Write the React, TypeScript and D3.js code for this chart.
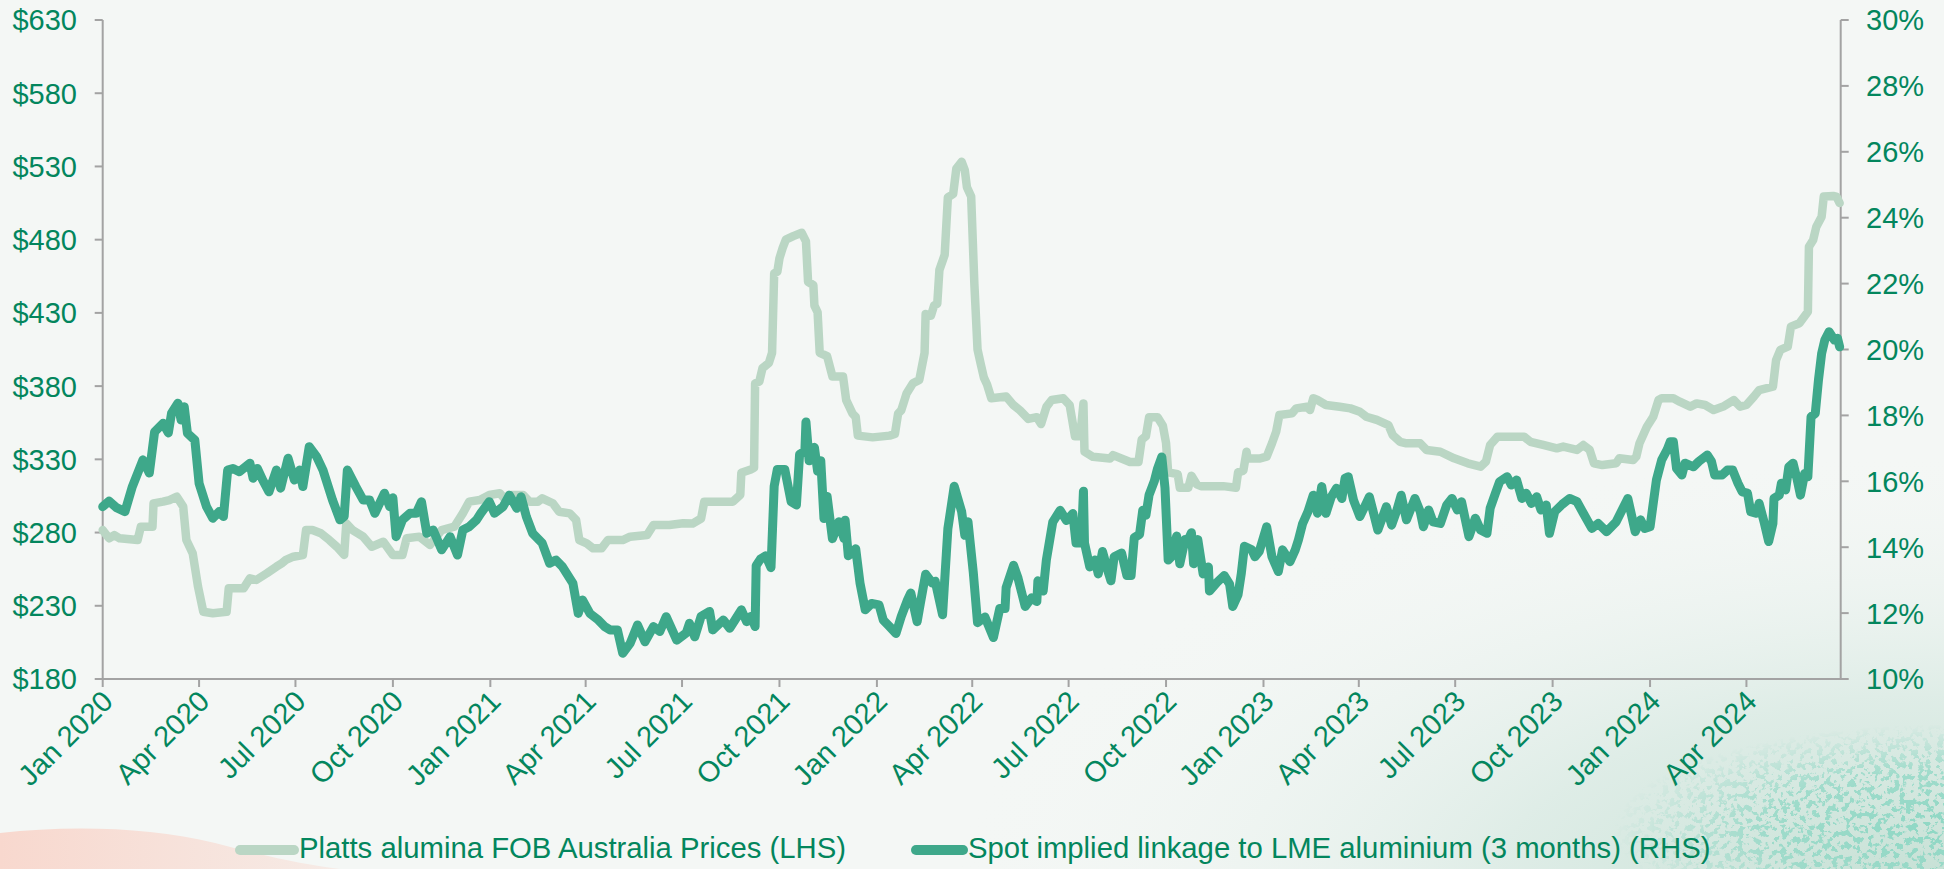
import React from "react";
import * as d3 from "d3";

const W = 1944;
const H = 869;

const xTickLabels = [
  "Jan 2020", "Apr 2020", "Jul 2020", "Oct 2020",
  "Jan 2021", "Apr 2021", "Jul 2021", "Oct 2021",
  "Jan 2022", "Apr 2022", "Jul 2022", "Oct 2022",
  "Jan 2023", "Apr 2023", "Jul 2023", "Oct 2023",
  "Jan 2024", "Apr 2024",
];
const leftTicks = [180, 230, 280, 330, 380, 430, 480, 530, 580, 630];
const rightTicks = [10, 12, 14, 16, 18, 20, 22, 24, 26, 28, 30];
const legendLabels = [
  "Platts alumina FOB Australia Prices (LHS)",
  "Spot implied linkage to LME aluminium (3 months) (RHS)",
];
const dateDomain = ["2020-01-01", "2024-06-29"];

// Platts alumina FOB Australia, US$/t (LHS)
const aluminaPrices: [string, number][] = [
  ["2020-01-01",281.7],["2020-01-07",276.1],["2020-01-12",278.3],["2020-01-17",276.1],["2020-02-03",274.9],["2020-02-06",284.0],["2020-02-17",284.0],["2020-02-18",299.9],["2020-02-27",301.1],["2020-03-04",302.2],["2020-03-11",304.5],["2020-03-17",297.7],["2020-03-20",274.9],["2020-03-26",265.8],["2020-03-31",243.0],["2020-04-05",225.9],["2020-04-14",224.9],["2020-04-27",225.9],["2020-04-29",241.9],["2020-05-13",241.9],["2020-05-19",248.7],["2020-05-25",247.6],["2020-06-04",252.2],["2020-06-13",256.7],["2020-06-18",259.0],["2020-06-22",261.3],["2020-06-29",263.5],["2020-07-08",264.7],["2020-07-11",281.7],["2020-07-17",281.7],["2020-07-25",279.5],["2020-08-02",274.9],["2020-08-09",270.3],["2020-08-16",264.7],["2020-08-18",286.3],["2020-08-24",281.7],["2020-09-03",277.2],["2020-09-11",270.3],["2020-09-22",273.7],["2020-10-01",264.7],["2020-10-10",264.7],["2020-10-14",276.1],["2020-10-26",277.2],["2020-11-05",271.5],["2020-11-16",281.7],["2020-11-28",284.0],["2020-12-06",293.1],["2020-12-12",301.1],["2020-12-22",302.2],["2020-12-31",305.6],
  ["2021-01-10",306.8],["2021-01-14",303.4],["2021-01-19",305.6],["2021-02-01",305.6],["2021-02-07",301.1],["2021-02-15",301.1],["2021-02-19",303.4],["2021-03-01",300.0],["2021-03-07",294.2],["2021-03-17",293.1],["2021-03-23",288.6],["2021-03-26",274.9],["2021-04-02",272.6],["2021-04-08",269.2],["2021-04-16",269.2],["2021-04-22",274.9],["2021-05-06",274.9],["2021-05-13",277.2],["2021-05-29",278.3],["2021-06-04",285.2],["2021-06-19",285.2],["2021-07-02",286.3],["2021-07-11",286.1],["2021-07-19",289.6],["2021-07-22",301.1],["2021-08-18",301.1],["2021-08-25",305.8],["2021-08-26",320.8],["2021-09-04",323.1],["2021-09-07",324.2],["2021-09-08",381.9],["2021-09-12",383.1],["2021-09-15",392.3],["2021-09-21",395.8],["2021-09-24",402.7],["2021-09-26",457.0],["2021-09-29",458.1],["2021-10-01",467.3],["2021-10-04",474.3],["2021-10-07",480.0],["2021-10-14",482.4],["2021-10-22",484.7],["2021-10-26",478.9],["2021-10-28",451.2],["2021-11-02",448.9],["2021-11-03",435.0],["2021-11-06",430.4],["2021-11-08",402.7],["2021-11-15",400.4],["2021-11-20",386.6],["2021-11-30",386.6],["2021-12-03",370.4],["2021-12-09",361.2],["2021-12-12",358.9],["2021-12-14",346.2],["2021-12-28",345.0],
  ["2022-01-13",346.2],["2022-01-18",347.3],["2022-01-21",361.2],["2022-01-24",363.5],["2022-01-29",375.0],["2022-02-04",381.9],["2022-02-10",384.2],["2022-02-15",402.7],["2022-02-16",429.3],["2022-02-21",428.1],["2022-02-24",435.0],["2022-02-27",436.2],["2022-03-01",459.3],["2022-03-06",469.7],["2022-03-09",508.9],["2022-03-14",511.2],["2022-03-17",528.5],["2022-03-22",533.2],["2022-03-25",527.4],["2022-03-27",515.8],["2022-03-31",509.4],["2022-04-03",450.0],["2022-04-06",405.0],["2022-04-09",395.2],["2022-04-12",385.8],["2022-04-15",381.1],["2022-04-19",371.7],["2022-05-03",372.9],["2022-05-10",367.0],["2022-05-16",363.5],["2022-05-24",357.6],["2022-06-01",358.8],["2022-06-05",354.1],["2022-06-10",365.8],["2022-06-15",370.5],["2022-06-26",371.7],["2022-07-02",367.0],["2022-07-07",345.8],["2022-07-12",345.8],["2022-07-15",368.2],["2022-07-16",335.2],["2022-07-24",331.7],["2022-08-09",330.5],["2022-08-12",332.9],["2022-08-28",328.2],["2022-09-05",328.2],["2022-09-08",343.5],["2022-09-12",345.8],["2022-09-15",358.8],["2022-09-23",358.8],["2022-09-28",352.9],["2022-10-01",341.1],["2022-10-03",321.1],["2022-10-12",319.9],["2022-10-14",310.6],["2022-10-22",310.6],["2022-10-25",318.8],["2022-10-30",312.9],["2022-11-03",311.7],["2022-11-24",311.7],["2022-12-06",310.6],["2022-12-08",321.1],["2022-12-13",322.3],["2022-12-16",335.2],["2022-12-17",330.5],["2022-12-28",330.5],
  ["2023-01-04",331.8],["2023-01-09",340.9],["2023-01-13",348.9],["2023-01-16",360.3],["2023-01-28",361.4],["2023-02-01",364.8],["2023-02-11",365.9],["2023-02-14",363.7],["2023-02-17",371.7],["2023-02-21",370.5],["2023-03-01",367.1],["2023-03-14",365.9],["2023-03-24",364.8],["2023-04-02",362.5],["2023-04-08",359.1],["2023-04-18",356.9],["2023-04-29",353.4],["2023-05-03",346.6],["2023-05-10",342.0],["2023-05-16",340.9],["2023-05-29",340.9],["2023-06-04",336.4],["2023-06-17",335.2],["2023-06-30",330.7],["2023-07-13",327.3],["2023-07-25",325.0],["2023-07-30",328.4],["2023-08-03",339.8],["2023-08-10",345.5],["2023-09-04",345.5],["2023-09-10",342.0],["2023-09-22",339.8],["2023-10-05",337.5],["2023-10-11",338.7],["2023-10-24",336.4],["2023-10-30",339.8],["2023-11-05",336.4],["2023-11-09",327.3],["2023-11-17",326.1],["2023-11-30",327.3],["2023-12-03",330.7],["2023-12-16",329.5],["2023-12-19",331.8],["2023-12-22",340.9],["2023-12-29",352.3],
  ["2024-01-04",359.1],["2024-01-09",370.5],["2024-01-12",371.7],["2024-01-23",371.7],["2024-01-29",369.4],["2024-02-08",366.0],["2024-02-14",368.2],["2024-02-22",367.1],["2024-03-01",363.7],["2024-03-10",366.0],["2024-03-20",370.5],["2024-03-26",366.0],["2024-04-01",367.1],["2024-04-08",372.8],["2024-04-13",377.3],["2024-04-26",379.6],["2024-04-29",397.8],["2024-05-03",404.7],["2024-05-10",406.9],["2024-05-13",420.6],["2024-05-21",422.9],["2024-05-29",430.8],["2024-05-30",475.2],["2024-06-03",479.8],["2024-06-06",488.9],["2024-06-11",495.7],["2024-06-13",509.4],["2024-06-22",509.8],["2024-06-25",509.4],["2024-06-28",505.0],
];

// Spot implied linkage to LME aluminium 3M, % (RHS)
const linkagePct: [string, number][] = [
  ["2020-01-01",15.23],["2020-01-07",15.40],["2020-01-14",15.20],["2020-01-22",15.08],["2020-01-29",15.84],["2020-02-08",16.65],["2020-02-14",16.25],["2020-02-19",17.50],["2020-02-27",17.76],["2020-03-03",17.47],["2020-03-06",18.07],["2020-03-12",18.37],["2020-03-15",17.86],["2020-03-18",18.26],["2020-03-21",17.46],["2020-03-28",17.25],["2020-04-01",15.94],["2020-04-08",15.23],["2020-04-14",14.88],["2020-04-20",15.08],["2020-04-24",14.93],["2020-04-28",16.34],["2020-05-03",16.39],["2020-05-09",16.29],["2020-05-19",16.55],["2020-05-22",16.09],["2020-05-26",16.39],["2020-05-31",16.04],["2020-06-06",15.68],["2020-06-13",16.34],["2020-06-17",15.79],["2020-06-24",16.70],["2020-06-30",16.04],["2020-07-05",16.34],["2020-07-08",15.84],["2020-07-14",17.05],["2020-07-21",16.75],["2020-07-27",16.34],["2020-08-05",15.43],["2020-08-12",14.83],["2020-08-16",14.93],["2020-08-19",16.34],["2020-08-27",15.84],["2020-09-03",15.43],["2020-09-09",15.43],["2020-09-14",15.03],["2020-09-23",15.64],["2020-09-28",15.23],["2020-10-01",15.50],["2020-10-04",14.32],["2020-10-10",14.83],["2020-10-17",15.03],["2020-10-23",15.03],["2020-10-28",15.38],["2020-11-02",14.42],["2020-11-08",14.52],["2020-11-16",13.92],["2020-11-24",14.32],["2020-12-01",13.76],["2020-12-06",14.52],["2020-12-12",14.62],["2020-12-19",14.83],["2020-12-23",15.03],["2020-12-31",15.38],
  ["2021-01-05",15.03],["2021-01-13",15.23],["2021-01-19",15.58],["2021-01-26",15.18],["2021-01-30",15.53],["2021-02-04",14.93],["2021-02-10",14.42],["2021-02-19",14.12],["2021-02-26",13.51],["2021-03-04",13.61],["2021-03-10",13.41],["2021-03-20",12.90],["2021-03-25",11.99],["2021-03-29",12.40],["2021-04-05",11.99],["2021-04-13",11.79],["2021-04-19",11.59],["2021-04-24",11.49],["2021-05-01",11.49],["2021-05-06",10.78],["2021-05-13",11.08],["2021-05-20",11.64],["2021-05-27",11.13],["2021-06-04",11.59],["2021-06-10",11.44],["2021-06-16",11.89],["2021-06-26",11.18],["2021-07-05",11.40],["2021-07-08",11.69],["2021-07-13",11.28],["2021-07-19",11.90],["2021-07-27",12.05],["2021-07-30",11.49],["2021-08-09",11.79],["2021-08-15",11.54],["2021-08-20",11.79],["2021-08-26",12.10],["2021-08-31",11.74],["2021-09-04",11.90],["2021-09-08",11.59],["2021-09-09",13.44],["2021-09-13",13.64],["2021-09-18",13.74],["2021-09-23",13.38],["2021-09-26",15.85],["2021-09-29",16.36],["2021-10-06",16.36],["2021-10-12",15.38],["2021-10-17",15.28],["2021-10-20",16.82],["2021-10-25",16.92],["2021-10-26",17.80],["2021-10-29",16.62],["2021-11-03",17.03],["2021-11-06",16.31],["2021-11-09",16.62],["2021-11-12",14.87],["2021-11-15",15.54],["2021-11-20",14.26],["2021-11-26",14.77],["2021-12-01",14.26],["2021-12-02",14.82],["2021-12-05",13.74],["2021-12-12",13.95],["2021-12-16",12.92],["2021-12-21",12.10],["2021-12-27",12.29],
  ["2022-01-03",12.25],["2022-01-07",11.79],["2022-01-13",11.59],["2022-01-19",11.38],["2022-01-24",11.90],["2022-01-30",12.41],["2022-02-02",12.61],["2022-02-08",11.74],["2022-02-11",12.29],["2022-02-16",13.18],["2022-02-22",12.92],["2022-02-25",12.97],["2022-03-04",11.95],["2022-03-09",14.56],["2022-03-15",15.85],["2022-03-22",15.08],["2022-03-25",14.36],["2022-03-28",14.77],["2022-04-02",13.23],["2022-04-06",11.71],["2022-04-13",11.88],["2022-04-21",11.26],["2022-04-27",12.14],["2022-05-02",12.14],["2022-05-03",12.77],["2022-05-10",13.45],["2022-05-14",13.09],["2022-05-21",12.20],["2022-05-27",12.46],["2022-06-01",12.35],["2022-06-02",12.98],["2022-06-07",12.67],["2022-06-10",13.61],["2022-06-16",14.76],["2022-06-23",15.12],["2022-06-29",14.81],["2022-07-05",15.02],["2022-07-08",14.13],["2022-07-13",14.13],["2022-07-15",15.70],["2022-07-16",14.13],["2022-07-21",13.40],["2022-07-26",13.61],["2022-07-29",13.19],["2022-08-02",13.87],["2022-08-07",13.29],["2022-08-10",12.98],["2022-08-13",13.71],["2022-08-20",13.82],["2022-08-25",13.14],["2022-08-29",13.14],["2022-09-01",14.29],["2022-09-06",14.39],["2022-09-09",15.12],["2022-09-12",14.97],["2022-09-15",15.59],["2022-09-20",16.01],["2022-09-23",16.39],["2022-09-27",16.74],["2022-09-30",15.80],["2022-10-03",13.61],["2022-10-06",13.71],["2022-10-11",14.34],["2022-10-14",13.50],["2022-10-19",14.23],["2022-10-22",14.23],["2022-10-25",14.44],["2022-10-27",13.50],["2022-10-31",14.23],["2022-11-05",13.19],["2022-11-10",13.40],["2022-11-11",12.67],["2022-11-18",12.93],["2022-11-25",13.14],["2022-11-30",12.88],["2022-12-03",12.20],["2022-12-08",12.56],["2022-12-11",13.19],["2022-12-14",14.03],["2022-12-21",13.92],["2022-12-24",13.71],["2022-12-28",13.87],
  ["2023-01-04",14.62],["2023-01-09",13.71],["2023-01-15",13.26],["2023-01-19",13.92],["2023-01-26",13.56],["2023-01-31",13.92],["2023-02-03",14.22],["2023-02-07",14.72],["2023-02-12",15.08],["2023-02-17",15.58],["2023-02-21",15.03],["2023-02-25",15.84],["2023-03-01",15.03],["2023-03-06",15.53],["2023-03-11",15.79],["2023-03-16",15.48],["2023-03-19",16.09],["2023-03-22",16.14],["2023-03-27",15.43],["2023-04-02",14.93],["2023-04-08",15.33],["2023-04-11",15.53],["2023-04-19",14.52],["2023-04-27",15.23],["2023-05-02",14.67],["2023-05-07",15.13],["2023-05-11",15.58],["2023-05-16",14.83],["2023-05-24",15.48],["2023-05-29",15.08],["2023-06-01",14.62],["2023-06-06",15.13],["2023-06-10",14.77],["2023-06-17",14.72],["2023-06-23",15.28],["2023-06-28",15.48],["2023-07-03",15.13],["2023-07-07",15.38],["2023-07-14",14.32],["2023-07-20",14.88],["2023-07-25",14.52],["2023-07-31",14.42],["2023-08-03",15.18],["2023-08-08",15.64],["2023-08-12",15.99],["2023-08-19",16.14],["2023-08-23",15.89],["2023-08-28",16.04],["2023-09-02",15.48],["2023-09-06",15.64],["2023-09-11",15.33],["2023-09-16",15.53],["2023-09-20",15.13],["2023-09-25",15.28],["2023-09-28",14.42],["2023-10-03",15.08],["2023-10-10",15.30],["2023-10-17",15.48],["2023-10-24",15.38],["2023-10-30",15.03],["2023-11-07",14.57],["2023-11-13",14.72],["2023-11-21",14.47],["2023-11-30",14.77],["2023-12-11",15.48],["2023-12-18",14.47],["2023-12-23",14.83],["2023-12-27",14.57],
  ["2024-01-01",14.62],["2024-01-07",16.04],["2024-01-12",16.65],["2024-01-17",16.95],["2024-01-20",17.20],["2024-01-23",17.20],["2024-01-26",16.39],["2024-01-31",16.19],["2024-02-03",16.55],["2024-02-11",16.44],["2024-02-16",16.60],["2024-02-24",16.80],["2024-02-28",16.60],["2024-03-02",16.19],["2024-03-09",16.19],["2024-03-14",16.34],["2024-03-19",16.34],["2024-03-24",15.94],["2024-03-28",15.68],["2024-04-02",15.64],["2024-04-05",15.08],["2024-04-10",15.03],["2024-04-13",15.33],["2024-04-18",14.72],["2024-04-22",14.17],["2024-04-26",14.72],["2024-04-27",15.48],["2024-05-02",15.58],["2024-05-04",15.94],["2024-05-08",15.74],["2024-05-11",16.44],["2024-05-15",16.55],["2024-05-19",16.04],["2024-05-22",15.58],["2024-05-26",16.24],["2024-05-29",16.14],["2024-06-01",17.96],["2024-06-05",18.06],["2024-06-08",19.07],["2024-06-11",19.88],["2024-06-14",20.29],["2024-06-18",20.54],["2024-06-23",20.29],["2024-06-26",20.34],["2024-06-28",20.08],
];

const TEXT = "#03865d";
const AXIS = "#a3a3a3";
const LIGHT = "#bad6c4";
const DARK = "#3ea88a";
const FONT = "'Liberation Sans', Arial, sans-serif";

const parseDay = d3.utcParse("%Y-%m-%d");
const parseMonth = d3.utcParse("%b %Y");

export default function App() {
  const plot = { left: 102.7, right: 1840.7, top: 20, bottom: 679 };

  const x = d3
    .scaleUtc()
    .domain(dateDomain.map((s) => parseDay(s) as Date))
    .range([plot.left, plot.right]);
  const yL = d3.scaleLinear().domain([180, 630]).range([plot.bottom, plot.top]);
  const yR = d3.scaleLinear().domain([10, 30]).range([plot.bottom, plot.top]);

  const lightLine = d3
    .line<[string, number]>()
    .x((d) => x(parseDay(d[0]) as Date))
    .y((d) => yL(d[1]));
  const darkLine = d3
    .line<[string, number]>()
    .x((d) => x(parseDay(d[0]) as Date))
    .y((d) => yR(d[1]));

  const xTicks = xTickLabels.map((l) => ({ label: l, x: x(parseMonth(l) as Date) }));

  return (
    <svg
      width={W}
      height={H}
      viewBox={`0 0 ${W} ${H}`}
      style={{ position: "absolute", left: 0, top: 0, display: "block" }}
      fontFamily={FONT}
    >
      <defs>
        <radialGradient id="greenTint" gradientUnits="userSpaceOnUse" cx={1944} cy={900} r={1000}
          gradientTransform="translate(1944 900) scale(1 0.45) translate(-1944 -900)">
          <stop offset="0" stopColor="#c3dfd3" stopOpacity={1} />
          <stop offset="0.45" stopColor="#d9eae3" stopOpacity={0.8} />
          <stop offset="1" stopColor="#f4f7f5" stopOpacity={0} />
        </radialGradient>
        <linearGradient id="pinkFill" x1="0" y1="0" x2="1" y2="0">
          <stop offset="0" stopColor="#f8d8ce" />
          <stop offset="1" stopColor="#f6ebe6" />
        </linearGradient>
        <radialGradient id="speckMaskGrad" gradientUnits="userSpaceOnUse" cx={1944} cy={830} r={330}
          gradientTransform="translate(1944 830) scale(1 0.32) translate(-1944 -830)">
          <stop offset="0" stopColor="#fff" stopOpacity={1} />
          <stop offset="0.55" stopColor="#fff" stopOpacity={0.75} />
          <stop offset="1" stopColor="#fff" stopOpacity={0} />
        </radialGradient>
        <mask id="speckMask" maskUnits="userSpaceOnUse" x={1500} y={720} width={444} height={149}>
          <rect x={1500} y={720} width={444} height={149} fill="url(#speckMaskGrad)" />
        </mask>
        <filter id="speckle" x={1500} y={720} width={444} height={149} filterUnits="userSpaceOnUse">
          <feTurbulence type="fractalNoise" baseFrequency="0.16" numOctaves={3} seed={11} result="n" />
          <feColorMatrix in="n" type="matrix"
            values="0 0 0 0 0.27  0 0 0 0 0.68  0 0 0 0 0.55  16 0 0 0 -8.3" />
        </filter>
      </defs>

      <rect x={0} y={0} width={W} height={H} fill="#f4f7f5" />
      <rect x={0} y={0} width={W} height={H} fill="url(#greenTint)" />
      <path d="M0,869 L0,833 C70,825 150,827 215,843 C265,856 305,865 340,869 Z" fill="url(#pinkFill)" />
      <g mask="url(#speckMask)">
        <rect x={1500} y={720} width={444} height={149} fill="#fff" filter="url(#speckle)" />
      </g>

      {/* axes */}
      <line x1={plot.left} x2={plot.left} y1={plot.top} y2={plot.bottom} stroke={AXIS} strokeWidth={2} />
      <line x1={plot.right} x2={plot.right} y1={plot.top} y2={plot.bottom} stroke={AXIS} strokeWidth={2} />
      <line x1={plot.left - 1} x2={plot.right + 1} y1={plot.bottom} y2={plot.bottom} stroke={AXIS} strokeWidth={2} />

      {leftTicks.map((t) => (
        <g key={"l" + t}>
          <line x1={plot.left - 8} x2={plot.left} y1={yL(t)} y2={yL(t)} stroke={AXIS} strokeWidth={2} />
          <text x={77} y={yL(t)} dy="0.36em" textAnchor="end" fontSize={29} fill={TEXT}>
            {"$" + t}
          </text>
        </g>
      ))}
      {rightTicks.map((t) => (
        <g key={"r" + t}>
          <line x1={plot.right} x2={plot.right + 8} y1={yR(t)} y2={yR(t)} stroke={AXIS} strokeWidth={2} />
          <text x={1866} y={yR(t)} dy="0.36em" textAnchor="start" fontSize={29} fill={TEXT}>
            {t + "%"}
          </text>
        </g>
      ))}
      {xTicks.map((t) => (
        <g key={t.label}>
          <line x1={t.x} x2={t.x} y1={plot.bottom} y2={plot.bottom + 8} stroke={AXIS} strokeWidth={2} />
          <text
            transform={`translate(${t.x + 12},${plot.bottom + 24}) rotate(-45)`}
            textAnchor="end"
            fontSize={29}
            fill={TEXT}
          >
            {t.label}
          </text>
        </g>
      ))}

      {/* series */}
      <path d={lightLine(aluminaPrices) || ""} fill="none" stroke={LIGHT} strokeWidth={8.5}
        strokeLinejoin="round" strokeLinecap="round" />
      <path d={darkLine(linkagePct) || ""} fill="none" stroke={DARK} strokeWidth={9}
        strokeLinejoin="round" strokeLinecap="round" />

      {/* legend */}
      <line x1={240} x2={294} y1={850} y2={850} stroke={LIGHT} strokeWidth={10} strokeLinecap="round" />
      <text x={299} y={858} fontSize={29.3} fill={TEXT}>{legendLabels[0]}</text>
      <line x1={916} x2={963} y1={850} y2={850} stroke={DARK} strokeWidth={10} strokeLinecap="round" />
      <text x={968} y={858} fontSize={29.3} fill={TEXT}>{legendLabels[1]}</text>
    </svg>
  );
}
